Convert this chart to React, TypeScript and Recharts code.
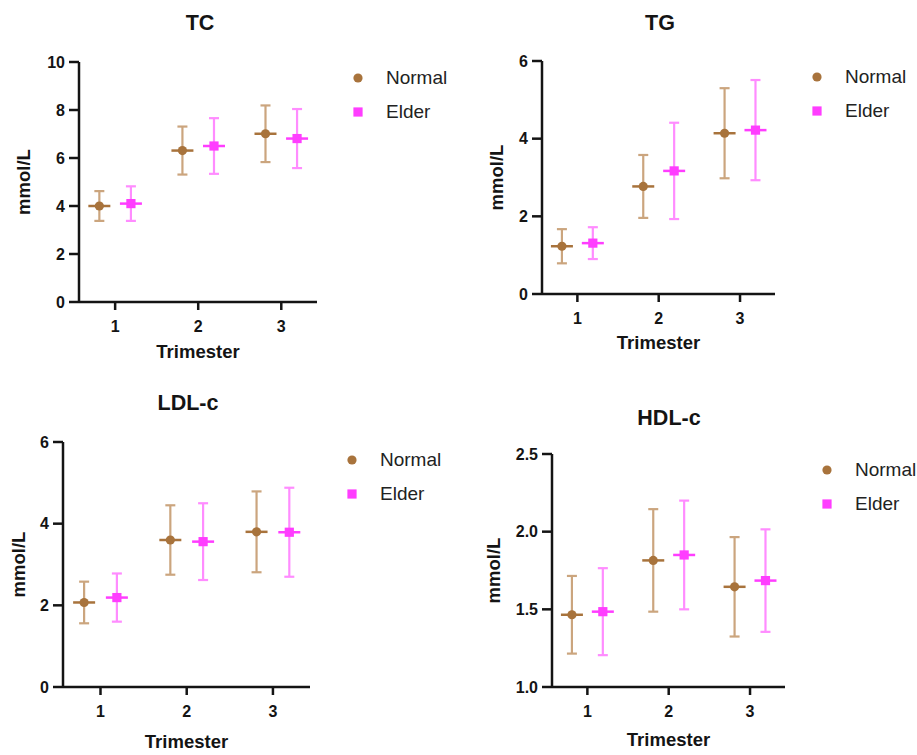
import React from 'react';
import { ScatterChart, Scatter, XAxis, YAxis, ErrorBar, Legend } from 'recharts';

// ---------- data ----------
const trimesters = [1, 2, 3];

const tcNormalMean = [4.0, 6.31, 7.01];
const tcNormalSd = [0.62, 1.0, 1.18];
const tcElderMean = [4.1, 6.5, 6.81];
const tcElderSd = [0.72, 1.16, 1.23];

const tgNormalMean = [1.23, 2.77, 4.14];
const tgNormalSd = [0.44, 0.81, 1.16];
const tgElderMean = [1.31, 3.17, 4.22];
const tgElderSd = [0.41, 1.24, 1.29];

const ldlNormalMean = [2.07, 3.6, 3.8];
const ldlNormalSd = [0.51, 0.85, 0.99];
const ldlElderMean = [2.19, 3.56, 3.79];
const ldlElderSd = [0.59, 0.94, 1.09];

const hdlNormalMean = [1.465, 1.815, 1.645];
const hdlNormalSd = [0.25, 0.33, 0.32];
const hdlElderMean = [1.485, 1.85, 1.685];
const hdlElderSd = [0.28, 0.35, 0.33];

const tcTicks = [0, 2, 4, 6, 8, 10];
const tgTicks = [0, 2, 4, 6];
const ldlTicks = [0, 2, 4, 6];
const hdlTicks = [1.0, 1.5, 2.0, 2.5];

const seriesNames = ['Normal', 'Elder'];

// ---------- styles ----------
const FONT = '"Liberation Sans", Arial, Helvetica, sans-serif';
const NORMAL = '#A8733C';
const NORMAL_BAR = '#CBA57E';
const ELDER = '#FF3DFF';
const ELDER_BAR = '#FF8CFF';
const INK = '#141414';
const GROUP_OFFSET = 0.19;

const build = (means: number[], sds: number[], shift: number) =>
  trimesters.map((t, i) => ({ x: t + shift, y: means[i], sd: sds[i] }));

const NormalShape = (p: any) => (
  <g>
    <line x1={p.cx - 11} x2={p.cx + 11} y1={p.cy} y2={p.cy} stroke={NORMAL} strokeWidth={2.5} />
    <circle cx={p.cx} cy={p.cy} r={4.6} fill={NORMAL} />
  </g>
);

const ElderShape = (p: any) => (
  <g>
    <line x1={p.cx - 11} x2={p.cx + 11} y1={p.cy} y2={p.cy} stroke={ELDER} strokeWidth={2.5} />
    <rect x={p.cx - 4.6} y={p.cy - 4.6} width={9.2} height={9.2} fill={ELDER} />
  </g>
);

const LegendBox = () => (
  <div style={{ fontFamily: FONT, fontSize: 19, color: '#222' }}>
    {seriesNames.map((n, i) => (
      <div key={n} style={{ display: 'flex', alignItems: 'center', height: 34 }}>
        <svg width={12} height={12} style={{ display: 'block' }}>
          {i === 0 ? (
            <circle cx={6} cy={6} r={4.6} fill={NORMAL} />
          ) : (
            <rect x={1.4} y={1.4} width={9.2} height={9.2} fill={ELDER} />
          )}
        </svg>
        <span style={{ marginLeft: 22, lineHeight: '34px' }}>{n}</span>
      </div>
    ))}
  </div>
);

type PanelProps = {
  title: string;
  left: number;
  top: number;
  width: number;
  height: number;
  margin: { top: number; right: number; bottom: number; left: number };
  xAxisHeight: number;
  yLabelOffset: number;
  xLabelOffset: number;
  titleX: number;
  titleY: number;
  legendX: number;
  legendY: number;
  domain: [number, number];
  ticks: number[];
  fmt?: (v: number) => string;
  nMean: number[];
  nSd: number[];
  eMean: number[];
  eSd: number[];
};

const Panel = (p: PanelProps) => {
  const normalRows = build(p.nMean, p.nSd, -GROUP_OFFSET);
  const elderRows = build(p.eMean, p.eSd, GROUP_OFFSET);
  const tickStyle = { fontFamily: FONT, fontSize: 16, fontWeight: 700, fill: INK };
  const labelStyle = { fontFamily: FONT, fontSize: 18.5, fontWeight: 700, fill: INK, textAnchor: 'middle' as const };
  return (
    <div style={{ position: 'absolute', left: p.left, top: p.top, width: p.width, height: p.height }}>
      <ScatterChart width={p.width} height={p.height} margin={p.margin}>
        <XAxis
          type="number"
          dataKey="x"
          domain={[0.565, 3.43]}
          ticks={trimesters}
          allowDataOverflow
          height={p.xAxisHeight}
          axisLine={{ stroke: INK, strokeWidth: 2.5 }}
          tickLine={{ stroke: INK, strokeWidth: 2.5 }}
          tickSize={8}
          tickMargin={11}
          tick={tickStyle}
          label={{ value: 'Trimester', position: 'insideBottom', offset: p.xLabelOffset, style: labelStyle }}
        />
        <YAxis
          type="number"
          dataKey="y"
          domain={p.domain}
          ticks={p.ticks}
          allowDataOverflow
          width={60}
          tickFormatter={p.fmt}
          axisLine={{ stroke: INK, strokeWidth: 2.5 }}
          tickLine={{ stroke: INK, strokeWidth: 2.5 }}
          tickSize={10}
          tickMargin={4}
          tick={tickStyle}
          label={{ value: 'mmol/L', angle: -90, position: 'insideLeft', offset: p.yLabelOffset, style: labelStyle }}
        />
        <Legend
          layout="vertical"
          align="center"
          verticalAlign="middle"
          wrapperStyle={{ left: p.legendX, top: p.legendY, width: 110, height: 68 }}
          content={() => <LegendBox />}
        />
        <Scatter name="Normal" data={normalRows} shape={NormalShape} isAnimationActive={false}>
          <ErrorBar dataKey="sd" direction="y" width={5} stroke={NORMAL_BAR} strokeWidth={2.2} isAnimationActive={false} />
        </Scatter>
        <Scatter name="Elder" data={elderRows} shape={ElderShape} isAnimationActive={false}>
          <ErrorBar dataKey="sd" direction="y" width={5} stroke={ELDER_BAR} strokeWidth={2.2} isAnimationActive={false} />
        </Scatter>
      </ScatterChart>
      <div
        style={{
          position: 'absolute',
          left: p.titleX - 100,
          top: p.titleY - 14,
          width: 200,
          lineHeight: '28px',
          textAlign: 'center',
          fontFamily: FONT,
          fontSize: 21.5,
          fontWeight: 700,
          color: INK,
        }}
      >
        {p.title}
      </div>
    </div>
  );
};

export default function App() {
  return (
    <div style={{ position: 'absolute', left: 0, top: 0, width: 917, height: 755, background: '#fff', overflow: 'hidden' }}>
      <Panel
        title="TC"
        left={0}
        top={0}
        width={458}
        height={375}
        margin={{ top: 62, right: 141, bottom: 13, left: 19 }}
        xAxisHeight={60}
        yLabelOffset={4}
        xLabelOffset={4}
        titleX={200}
        titleY={23}
        legendX={352}
        legendY={61}
        domain={[0, 10]}
        ticks={tcTicks}
        nMean={tcNormalMean}
        nSd={tcNormalSd}
        eMean={tcElderMean}
        eSd={tcElderSd}
      />
      <Panel
        title="TG"
        left={460}
        top={0}
        width={457}
        height={375}
        margin={{ top: 61, right: 142, bottom: 21, left: 22 }}
        xAxisHeight={60}
        yLabelOffset={14}
        xLabelOffset={5}
        titleX={200}
        titleY={23}
        legendX={351}
        legendY={60}
        domain={[0, 6]}
        ticks={tgTicks}
        nMean={tgNormalMean}
        nSd={tgNormalSd}
        eMean={tgElderMean}
        eSd={tgElderSd}
      />
      <Panel
        title="LDL-c"
        left={0}
        top={378}
        width={458}
        height={377}
        margin={{ top: 64, right: 148, bottom: 6, left: 3 }}
        xAxisHeight={62}
        yLabelOffset={15}
        xLabelOffset={1}
        titleX={188}
        titleY={25}
        legendX={346}
        legendY={65}
        domain={[0, 6]}
        ticks={ldlTicks}
        nMean={ldlNormalMean}
        nSd={ldlNormalSd}
        eMean={ldlElderMean}
        eSd={ldlElderSd}
      />
      <Panel
        title="HDL-c"
        left={460}
        top={378}
        width={457}
        height={377}
        margin={{ top: 76, right: 132, bottom: 6, left: 32 }}
        xAxisHeight={62}
        yLabelOffset={1}
        xLabelOffset={3}
        titleX={209}
        titleY={40}
        legendX={361}
        legendY={75}
        domain={[1, 2.5]}
        ticks={hdlTicks}
        fmt={(v: number) => v.toFixed(1)}
        nMean={hdlNormalMean}
        nSd={hdlNormalSd}
        eMean={hdlElderMean}
        eSd={hdlElderSd}
      />
    </div>
  );
}
